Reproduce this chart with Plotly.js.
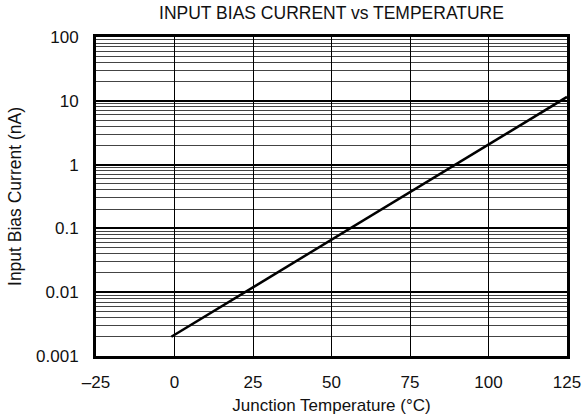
<!DOCTYPE html>
<html>
<head>
<meta charset="utf-8">
<script src="https://cdn.plot.ly/plotly-3.0.1.min.js"></script>
<style>html,body{margin:0;padding:0;background:#fff;}#chart{width:582px;height:417px;}</style>
</head>
<body>
<div id="chart"></div>
<script>
// Data
const temperatureC = [-1, 125];
const biasCurrentNA = [0.002, 11.5];

const xTickVals = [-25, 0, 25, 50, 75, 100, 125];
const xTickText = ["\u201325", "0", "25", "50", "75", "100", "125"];
const yTickVals = [0.001, 0.01, 0.1, 1, 10, 100];
const yTickText = ["0.001", "0.01", "0.1", "1", "10", "100"];

const trace = {
  x: temperatureC,
  y: biasCurrentNA,
  type: "scatter",
  mode: "lines",
  line: {color: "#000", width: 2.5},
  hoverinfo: "skip",
  showlegend: false
};

const font = {family: "Liberation Sans, Arial, sans-serif", color: "#111"};

const layout = {
  width: 582, height: 417,
  margin: {l: 96, r: 15, t: 37, b: 61},
  paper_bgcolor: "#fff", plot_bgcolor: "#fff",
  font: Object.assign({}, font, {size: 17}),
  title: {text: "INPUT BIAS CURRENT vs TEMPERATURE", font: Object.assign({}, font, {size: 17.5}), x: 0.5, xanchor: "center", xref: "paper", yref: "container", y: 0.97, yanchor: "middle"},
  xaxis: {
    range: [-25, 125],
    tickvals: xTickVals, ticktext: xTickText,
    showgrid: true, gridcolor: "#000", gridwidth: 1,
    showline: true, linecolor: "#000", linewidth: 3, mirror: true,
    ticks: "", zeroline: false,
    ticklabelstandoff: 9,
    tickfont: Object.assign({}, font, {size: 17}),
    title: {text: "Junction Temperature (\u00B0C)", font: Object.assign({}, font, {size: 17}), standoff: 8}
  },
  yaxis: {
    type: "log",
    range: [-3, 2],
    tickvals: yTickVals, ticktext: yTickText,
    showgrid: true, gridcolor: "#000", gridwidth: 2,
    minor: {showgrid: true, gridcolor: "#444", gridwidth: 1, dtick: "D1", ticks: ""},
    showline: true, linecolor: "#000", linewidth: 3, mirror: true,
    ticks: "", zeroline: false,
    ticklabelstandoff: 11,
    tickfont: Object.assign({}, font, {size: 17}),
    title: {text: "Input Bias Current (nA)", font: Object.assign({}, font, {size: 17.5}), standoff: 10}
  }
};

Plotly.newPlot("chart", [trace], layout, {displayModeBar: false, staticPlot: true});
</script>
</body>
</html>
